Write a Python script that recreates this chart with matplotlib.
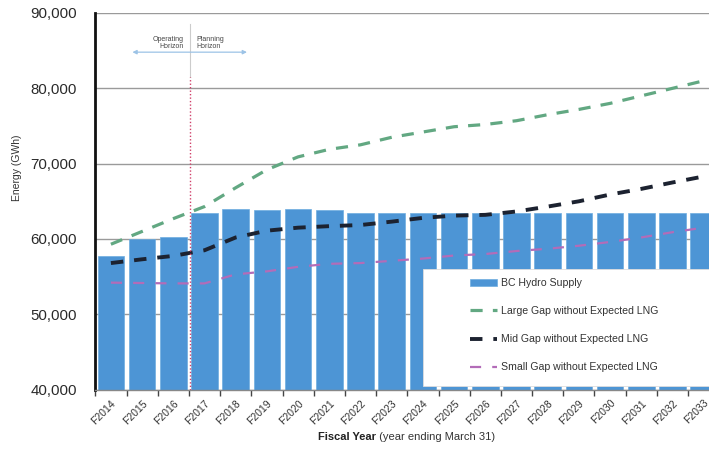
import matplotlib
matplotlib.use("Agg")
import matplotlib.pyplot as plt
from matplotlib.patches import Rectangle
from matplotlib.ticker import FuncFormatter, FixedLocator
import numpy as np

plt.rcParams["font.family"] = ["Liberation Sans", "DejaVu Sans"]

years = ["F2014", "F2015", "F2016", "F2017", "F2018", "F2019", "F2020", "F2021",
         "F2022", "F2023", "F2024", "F2025", "F2026", "F2027", "F2028", "F2029",
         "F2030", "F2031", "F2032", "F2033"]
supply = [57700, 60000, 60200, 63400, 64000, 63800, 64000, 63800, 63450, 63450,
          63500, 63400, 63500, 63500, 63500, 63500, 63500, 63500, 63500, 63500]
large_gap = [59300, 61000, 62700, 64300, 66800, 69200, 70900, 71900, 72500, 73500,
             74200, 74900, 75200, 75700, 76500, 77200, 78000, 79000, 80000, 81000]
mid_gap = [56800, 57300, 57750, 58500, 60200, 61100, 61500, 61700, 61850, 62300,
           62800, 63100, 63200, 63650, 64300, 65000, 65900, 66650, 67500, 68300]
small_gap = [54200, 54150, 54100, 54100, 55300, 55700, 56300, 56700, 56800, 57100,
             57400, 57800, 58000, 58400, 58700, 59100, 59600, 60200, 60900, 61500]

series_labels = ["BC Hydro Supply", "Large Gap without Expected LNG",
                 "Mid Gap without Expected LNG", "Small Gap without Expected LNG"]

fig = plt.figure(figsize=(7.09, 4.61), dpi=100)
ax = fig.add_axes([95 / 709, 1 - 389.6 / 461, (709 - 95) / 709, (389.6 - 13) / 461])

x = np.arange(len(years))
bars = ax.bar(x, supply, width=0.85, color="#4d95d5", edgecolor="#6eaddf",
              linewidth=0.5, zorder=2, label=series_labels[0])

l1, = ax.plot(x, large_gap, color="#62a882", lw=2.3, dashes=(3.8, 3.2),
              zorder=3, label=series_labels[1])
l2, = ax.plot(x, mid_gap, color="#1c2230", lw=2.8, dashes=(3.2, 2.8),
              zorder=3, label=series_labels[2])
l3, = ax.plot(x, small_gap, color="#b36cb8", lw=1.6, dashes=(5, 5),
              zorder=3, label=series_labels[3])

ax.set_xlim(-0.51, 19.17)
ax.set_ylim(40000, 90000)
ax.set_yticks(np.arange(40000, 90001, 10000))
ax.yaxis.set_major_formatter(FuncFormatter(lambda v, p: f"{int(v):,}"))
ax.tick_params(axis="y", length=0, pad=13, labelsize=10.8, labelcolor="#2a2a2a")
ax.set_axisbelow(True)
ax.grid(axis="y", color="#9a9a9a", lw=1.0)
ax.grid(axis="x", visible=False)

ax.set_xticks(x)
ax.set_xticklabels(years, rotation=45, ha="right", va="top",
                   rotation_mode="anchor", fontsize=7.5, color="#333333")
ax.tick_params(axis="x", which="major", length=0, pad=6)
ax.xaxis.set_minor_locator(FixedLocator(np.arange(-0.5, 19.6, 1)))
ax.tick_params(axis="x", which="minor", length=4, width=1, color="#444444")

for s in ["top", "right"]:
    ax.spines[s].set_visible(False)
ax.spines["left"].set_color("#111111")
ax.spines["left"].set_linewidth(2)
ax.spines["bottom"].set_color("#888888")
ax.spines["bottom"].set_linewidth(1)

# Operating / planning horizon divider
ax.plot([2.53, 2.53], [40000, 81500], color="#d0406a", lw=1, ls=(0, (1, 1.5)), zorder=4)
ax.plot([2.53, 2.53], [81500, 88500], color="#cccccc", lw=0.8, zorder=1)
ax.annotate("", xy=(0.6, 84800), xytext=(4.45, 84800),
            arrowprops=dict(arrowstyle="<|-|>", color="#9cc3e6", lw=0.9,
                            mutation_scale=6), zorder=4)
ax.text(2.33, 85100, "Operating\nHorizon", ha="right", va="bottom",
        fontsize=5, color="#444444", linespacing=0.9)
ax.text(2.75, 85100, "Planning\nHorizon", ha="left", va="bottom",
        fontsize=5, color="#444444", linespacing=0.9)

# Legend panel
ax.add_patch(Rectangle((0.534, 0.0096), 0.6, 0.311, transform=ax.transAxes,
                       facecolor="white", edgecolor="#dddddd", lw=0.6,
                       zorder=4.5, clip_on=False))
leg = ax.legend(handles=[bars, l1, l2, l3], labels=series_labels,
                loc="upper left", bbox_to_anchor=((470 - 95) / 614, (389.6 - 278) / 376.6),
                frameon=False, fontsize=7.6, labelspacing=1.72, handlelength=2.6,
                handletextpad=0.35, borderpad=0, borderaxespad=0)
leg.set_zorder(5)
for t in leg.get_texts():
    t.set_color("#333333")

ax.set_ylabel("Energy (GWh)", fontsize=7.5, color="#333333")
ax.yaxis.set_label_coords(-(95 - 22) / 614, (389.6 - 168) / 376.6)

t1 = fig.text(318 / 709, 1 - 437 / 461, "Fiscal Year", fontsize=8, fontweight="bold",
              color="#222222", ha="left", va="center")
ax.annotate(" (year ending March 31)", xy=(1, 0.5), xycoords=t1, ha="left",
            va="center", fontsize=8, color="#333333", annotation_clip=False)

fig.savefig("out.png", dpi=100)
